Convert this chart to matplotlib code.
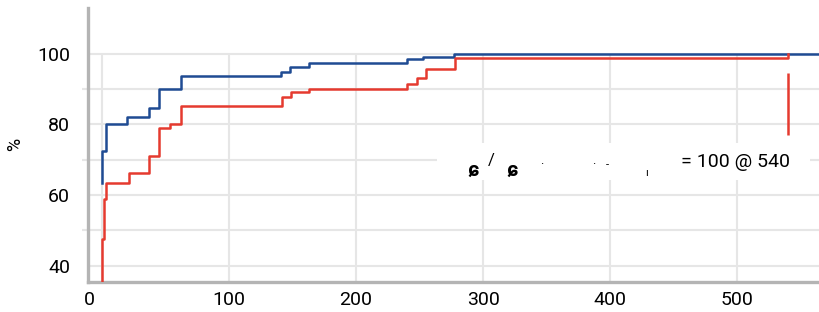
import matplotlib
matplotlib.use("Agg")
import matplotlib.pyplot as plt
import matplotlib.transforms as mtransforms
from matplotlib.patches import Rectangle

plt.rcParams['font.family'] = ['Roboto', 'DejaVu Sans']

# step curves (x = time, y = %), drawn as steps-post
blue_x = [0, 0, 3, 20, 37, 45, 62, 141, 148, 163, 240, 253, 277, 565]
blue_y = [63.3, 72.6, 80, 82, 84.8, 90.1, 93.8, 94.8, 96.4, 97.5, 98.6, 99.2, 100, 100]

red_x = [0, 0, 1.5, 3.5, 21.5, 37, 45, 54, 62, 142, 149, 163, 240, 248, 255, 278, 540, 540]
red_y = [30, 47.5, 59, 63.3, 66.3, 71.1, 79, 80, 85.2, 87.7, 89.1, 90.1, 91.5, 93.1, 95.7, 98.9, 100, 100]

# red vertical marker at the end
marker_x = 540
marker_lo, marker_hi = 77, 94.6

x_ticks = [0, 100, 200, 300, 400, 500]
y_ticks = [40, 60, 80, 100]
y_grid = [40, 50, 60, 70, 80, 90, 100]

BLUE = "#1f4b93"
RED = "#e53a2f"
GRID = "#e6e6e6"
SPINE = "#b4b4b4"

XMIN, XMAX = -10.8, 565
YMIN, YMAX = 35.5, 113

fig = plt.figure(figsize=(8.2, 3.12), dpi=100)
ax = fig.add_axes([88 / 820, 30.5 / 312, 732 / 820, 273.5 / 312])

ax.plot(blue_x, blue_y, drawstyle='steps-post', color=BLUE, lw=1.8, zorder=3)
ax.plot(red_x, red_y, drawstyle='steps-post', color=RED, lw=1.8, zorder=3)
ax.vlines(marker_x, marker_lo, marker_hi, color=RED, lw=1.8, zorder=3)

# grid only covers the 0..100 % range
ax.vlines(x_ticks, YMIN, max(y_grid), color=GRID, lw=1.5, zorder=0)
ax.hlines(y_grid, XMIN, XMAX, color=GRID, lw=1.5, zorder=0)

ax.set_xlim(XMIN, XMAX)
ax.set_ylim(YMIN, YMAX)

ax.set_xticks(x_ticks)
ax.set_yticks(y_ticks)
ax.set_yticks(y_grid, minor=True)

ax.tick_params(axis='x', length=0, pad=7, labelsize=14)
ax.tick_params(axis='y', which='major', length=0, pad=13, labelsize=14)
ax.tick_params(axis='y', which='minor', length=4, color=GRID, width=1.5)

# first x label sits at the axis corner
lbl0 = ax.get_xticklabels()[0]
lbl0.set_transform(lbl0.get_transform() +
                   mtransforms.ScaledTranslation(-12.5 / 100, 0, fig.dpi_scale_trans))

for s in ['top', 'right']:
    ax.spines[s].set_visible(False)
for s in ['left', 'bottom']:
    ax.spines[s].set_color(SPINE)
    ax.spines[s].set_linewidth(2.4)

ax.set_ylabel('%', fontsize=13, labelpad=9)

# annotation box with the (partly unrendered) label
ax.add_patch(Rectangle((0.477, 0.371), 0.509, 0.135, transform=ax.transAxes,
                       facecolor='white', edgecolor='none', zorder=4))
glyphs = [
    (0.519, 0.386, 'ɕ', 15, 'bold'),
    (0.546, 0.425, '/', 12, 'normal'),
    (0.572, 0.386, 'ɕ', 15, 'bold'),
    (0.617, 0.415, '·', 9, 'normal'),
    (0.689, 0.415, '·', 9, 'normal'),
    (0.707, 0.415, '-', 8, 'normal'),
    (0.761, 0.386, 'ı', 8, 'normal'),
]
for gx, gy, ch, fs, fw in glyphs:
    ax.text(gx, gy, ch, transform=ax.transAxes, ha='left', va='baseline',
            fontsize=fs, fontweight=fw, zorder=5)
ax.text(0.959, 0.437, '= 100 @ 540', transform=ax.transAxes, ha='right', va='center',
        fontsize=14, zorder=5)

fig.savefig('out.png', dpi=100)
